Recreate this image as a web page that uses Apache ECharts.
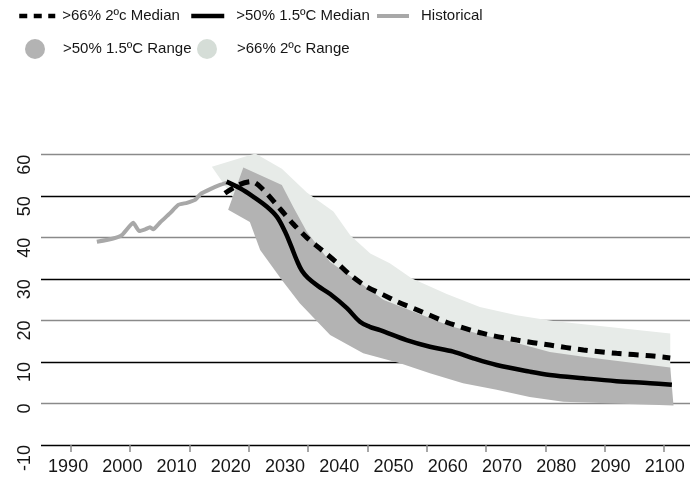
<!DOCTYPE html>
<html>
<head>
<meta charset="utf-8">
<script src="https://cdn.jsdelivr.net/npm/echarts@6/dist/echarts.min.js"></script>
<style>
  html, body { margin: 0; padding: 0; background: #ffffff; }
  #chart { width: 690px; height: 479px; }
</style>
</head>
<body>
<div id="chart"></div>
<script>
// Emissions pathways: historical series, scenario medians and ranges (GtCO2e / yr)

const yearLabels = [1990, 2000, 2010, 2020, 2030, 2040, 2050, 2060, 2070, 2080, 2090, 2100];
const tickMarks = [1990, 2000, 2010, 2020, 2030, 2040, 2050, 2060, 2070, 2080, 2090];

const historical = [
  [1995.3, 39.0], [1998.3, 39.8], [1999.9, 40.6], [2002.0, 43.6], [2003.1, 41.6],
  [2004.2, 42.0], [2005.1, 42.5], [2005.7, 42.0], [2006.9, 43.6], [2008.8, 45.9],
  [2010.3, 47.9], [2011.9, 48.4], [2013.4, 49.1], [2014.4, 50.5], [2016.2, 51.7],
  [2018.0, 52.7], [2019.2, 53.2]
];

const median2c = [
  [2018.9, 50.7], [2021.4, 52.7], [2023.8, 53.5], [2025.7, 51.9], [2029.1, 46.9],
  [2031.5, 43.3], [2034.0, 40.0], [2036.4, 37.4], [2039.5, 34.0], [2042.0, 31.0],
  [2045.0, 28.2], [2048.1, 26.2], [2050.6, 24.6], [2054.3, 22.6], [2060.4, 19.3],
  [2066.5, 16.9], [2072.7, 15.3], [2078.8, 14.1], [2085.0, 12.9], [2091.1, 12.1],
  [2097.3, 11.5], [2101.0, 11.0]
];

const median15 = [
  [2019.2, 53.5], [2021.7, 51.9], [2024.1, 49.9], [2026.6, 47.5], [2028.5, 45.0],
  [2030.0, 41.4], [2031.1, 38.0], [2032.2, 34.4], [2033.1, 32.0], [2034.2, 30.3],
  [2036.1, 28.3], [2038.3, 26.4], [2041.4, 23.0], [2043.8, 19.7], [2045.6, 18.5],
  [2047.5, 17.7], [2052.4, 15.3], [2056.7, 13.7], [2061.0, 12.5], [2064.7, 10.9],
  [2069.0, 9.3], [2075.1, 7.7], [2078.8, 6.9], [2085.0, 6.1], [2091.1, 5.4],
  [2097.3, 4.9], [2101.3, 4.5]
];

const range2cUpper = [
  [2016.5, 57.1], [2024.5, 60.3], [2029.4, 56.6], [2034.0, 50.9], [2038.9, 46.3],
  [2042.0, 40.6], [2045.7, 36.2], [2049.3, 33.8], [2053.3, 30.2], [2059.8, 26.4],
  [2065.9, 23.3], [2072.7, 21.3], [2079.4, 19.9], [2101.0, 16.9]
];
const range2cLower = [
  [2016.5, 57.1], [2021.0, 48.6], [2030.0, 36.0], [2040.0, 22.0], [2050.0, 15.0],
  [2060.0, 12.0], [2070.0, 9.0], [2080.0, 7.0], [2101.0, 5.0]
];

const range15Upper = [
  [2022.3, 56.9], [2029.4, 52.7], [2031.5, 47.4], [2034.0, 41.4], [2038.3, 34.1],
  [2044.4, 28.6], [2048.1, 25.0], [2054.3, 21.8], [2060.4, 18.7], [2066.5, 16.5],
  [2072.7, 14.6], [2078.8, 12.4], [2085.0, 11.3], [2101.0, 8.7], [2101.6, -0.5]
];
const range15Lower = [
  [2019.5, 46.7], [2023.5, 43.8], [2025.4, 37.0], [2029.4, 29.8], [2032.7, 24.2],
  [2038.3, 16.5], [2044.4, 12.1], [2051.2, 9.7], [2056.7, 7.3], [2062.8, 4.9],
  [2069.0, 3.3], [2075.1, 1.6], [2081.3, 0.4], [2101.6, -0.5]
];

const NAME_MED_2C = '>66% 2ºc Median';
const NAME_MED_15 = '>50% 1.5ºC Median';
const NAME_HIST = 'Historical';
const NAME_RANGE_15 = '>50% 1.5ºC Range';
const NAME_RANGE_2C = '>66% 2ºc Range';

const FONT = '"Liberation Sans", Arial, Helvetica, sans-serif';
const INK = '#161616';

// Filled polygon between an upper and a lower edge, projected through the grid's axes
function band(upper, lower, fill) {
  return function (params, api) {
    if (params.dataIndex !== 0) return null;
    const outline = upper.concat(lower.slice().reverse()).map(p => api.coord(p));
    return { type: 'polygon', shape: { points: outline }, style: { fill: fill } };
  };
}

function legendText(padLeft) {
  return { fontFamily: FONT, fontSize: 15, color: INK, lineHeight: 18, padding: [0, 0, 0, padLeft] };
}

// line-only legend swatch: the marker drawn on top of the line is hidden
const noMarker = { opacity: 0 };

const chart = echarts.init(document.getElementById('chart'), null, { renderer: 'canvas' });

chart.setOption({
  animation: false,
  backgroundColor: '#ffffff',
  legend: [
    { data: [{ name: NAME_MED_2C, itemStyle: noMarker, lineStyle: { type: [8, 6.5], width: 4.5 } }],
      left: 17, top: 7, padding: 0, itemWidth: 36, itemHeight: 18, selectedMode: false,
      textStyle: legendText(2) },
    { data: [{ name: NAME_MED_15, itemStyle: noMarker, lineStyle: { width: 4.5 } }],
      left: 189, top: 7, padding: 0, itemWidth: 33, itemHeight: 18, selectedMode: false,
      textStyle: legendText(7) },
    { data: [{ name: NAME_HIST, itemStyle: noMarker, lineStyle: { width: 4 } }],
      left: 375, top: 7, padding: 0, itemWidth: 32, itemHeight: 18, selectedMode: false,
      textStyle: legendText(7) },
    { data: [{ name: NAME_RANGE_15, icon: 'circle' }],
      left: 25, top: 39, padding: 0, itemWidth: 46, itemHeight: 20, selectedMode: false,
      textStyle: legendText(0) },
    { data: [{ name: NAME_RANGE_2C, icon: 'circle' }],
      left: 197, top: 39, padding: 0, itemWidth: 50, itemHeight: 20, selectedMode: false,
      textStyle: legendText(0) }
  ],
  grid: { left: 41, right: 0, top: 154.7, bottom: 34, containLabel: false },
  xAxis: [
    {
      type: 'value', min: 1985, max: 2104.64,
      axisLine: { show: false }, axisTick: { show: false }, splitLine: { show: false },
      axisLabel: {
        customValues: yearLabels, fontFamily: FONT, fontSize: 18, color: INK, margin: 13,
        formatter: v => String(v)
      }
    },
    {
      type: 'value', min: 1985, max: 2094.39, position: 'bottom',
      axisLine: { show: false }, splitLine: { show: false },
      axisLabel: { show: false },
      axisTick: { show: true, customValues: tickMarks, length: 7, lineStyle: { color: '#8a8a8a', width: 1.5 } }
    }
  ],
  yAxis: {
    type: 'value', min: -10, max: 60, interval: 10,
    axisLine: { show: false }, axisTick: { show: false },
    splitLine: { show: true, lineStyle: { color: ['#000000', '#8a8a8a'], width: 1.3 } },
    axisLabel: {
      rotate: 90, align: 'right', verticalAlign: 'middle', margin: 15.5,
      fontFamily: FONT, fontSize: 18, color: INK
    }
  },
  series: [
    {
      name: NAME_RANGE_2C, type: 'custom', z: 1, silent: true,
      renderItem: band(range2cUpper, range2cLower, '#e7ebe8'),
      itemStyle: { color: '#d5ddd7' },
      encode: { x: 0, y: 1 },
      data: range2cUpper.concat(range2cLower)
    },
    {
      name: NAME_RANGE_15, type: 'custom', z: 2, silent: true,
      renderItem: band(range15Upper, range15Lower, '#b3b3b3'),
      itemStyle: { color: '#b3b3b3' },
      encode: { x: 0, y: 1 },
      data: range15Upper.concat(range15Lower)
    },
    {
      name: NAME_HIST, type: 'line', z: 3, symbol: 'none', smooth: 0.15,
      data: historical,
      itemStyle: { color: '#a8a8a8' },
      lineStyle: { color: '#a8a8a8', width: 4 }
    },
    {
      name: NAME_MED_2C, type: 'line', z: 4, symbol: 'none', smooth: 0.3,
      data: median2c,
      itemStyle: { color: '#000000' },
      lineStyle: { color: '#000000', width: 5, type: [10, 7], cap: 'butt' }
    },
    {
      name: NAME_MED_15, type: 'line', z: 5, symbol: 'none', smooth: 0.35,
      data: median15,
      itemStyle: { color: '#000000' },
      lineStyle: { color: '#000000', width: 4.5 }
    }
  ]
});
</script>
</body>
</html>
